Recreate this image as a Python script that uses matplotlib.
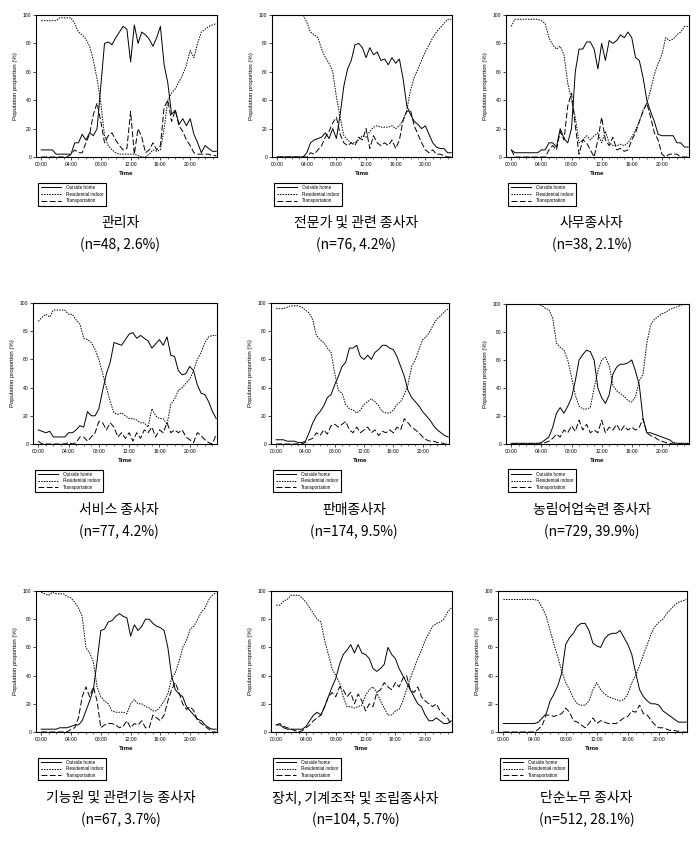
import numpy as np
import matplotlib
matplotlib.use('Agg')
import matplotlib.pyplot as plt

plt.rcParams['font.family'] = ['Liberation Sans', 'Noto Sans CJK KR', 'DejaVu Sans']

# 30분 간격 시간축 (00:00 ~ 23:30)
hours = np.arange(0, 24, 0.5)
tick_pos = [0, 4, 8, 12, 16, 20]
tick_lab = ['00:00', '04:00', '08:00', '12:00', '16:00', '20:00']
series_names = ['Outside home', 'Residential indoor', 'Transportation']

# 1. 관리자
out1 = [5,5,5,5,2,2,2,2, 2,10,10,16,12,17,15,20, 50,80,81,79,84,88,92,90,
        67,93,80,88,86,83,78,84, 92,65,52,30,33,23,27,22, 27,16,10,3,8,6,4,4]
res1 = [96,96,96,96,96,98,98,98, 98,94,88,86,83,78,68,55, 38,15,8,5,3,2,2,2,
        2,2,1,0,0,2,5,4, 5,20,40,45,48,53,58,65, 75,70,80,88,90,92,93,94]
trn1 = [0,0,0,0,0,0,0,0, 2,5,3,3,10,16,30,38, 25,10,15,17,12,8,5,6,
        32,2,20,14,3,5,10,5, 8,35,40,25,33,22,18,12, 8,3,2,2,2,2,1,1]

# 2. 전문가 및 관련 종사자
out2 = [0,0,0,0,0,0,0,0, 3,10,12,13,14,17,13,20, 13,30,50,62,68,79,80,77,
        70,77,72,74,68,69,65,70, 66,69,55,36,30,25,23,20, 22,16,10,7,6,6,3,3]
res2 = [100,100,100,100,100,100,100,100, 95,88,86,84,76,70,66,60, 42,28,15,12,10,10,12,15,
        14,18,21,22,21,21,21,22, 20,22,26,33,47,56,62,68, 74,79,84,88,91,94,97,97]
trn2 = [0,0,0,0,0,0,0,0, 0,3,2,5,8,14,18,24, 28,16,10,8,10,8,14,12,
        20,6,15,10,8,10,8,12, 6,12,26,32,33,22,16,10, 5,3,5,2,2,1,0,0]

# 3. 사무종사자
out3 = [5,3,3,3,3,3,3,3, 5,5,10,10,7,20,13,10, 20,60,76,76,81,81,76,62,
        80,68,82,80,82,86,84,88, 84,70,68,56,40,32,25,16, 15,15,15,15,10,10,7,7]
res3 = [92,97,97,97,97,97,97,97, 96,94,84,79,76,78,72,52, 40,28,10,12,15,12,15,17,
        10,18,10,8,8,9,8,10, 14,19,25,33,38,47,58,66, 72,84,82,83,86,88,92,92]
trn3 = [5,0,0,0,0,0,0,0, 0,0,5,8,5,18,12,36, 45,22,2,12,10,5,0,12,
        28,12,8,14,5,6,4,5, 12,17,25,32,38,28,17,12, 2,0,2,2,2,0,0,0]

# 4. 서비스 종사자
out4 = [10,9,8,9,5,5,5,5, 8,8,10,13,12,23,20,20, 25,38,50,58,72,71,70,74,
        78,79,75,77,75,73,68,71, 74,70,76,63,62,52,49,50, 55,52,42,36,35,30,23,18]
res4 = [87,90,92,90,95,95,95,95, 92,92,88,85,75,74,72,67, 60,50,40,30,22,21,22,20,
        18,18,17,15,15,12,25,20, 18,18,14,28,32,38,40,43, 46,52,60,65,72,76,77,77]
trn4 = [2,0,0,0,0,0,0,0, 1,0,1,5,5,2,5,8, 16,15,10,15,12,5,8,4,
        8,2,8,4,10,8,12,5, 10,8,15,8,10,8,10,5, 3,1,8,6,3,1,0,7]

# 5. 판매종사자
out5 = [3,3,3,2,2,2,1,1, 2,8,15,20,23,27,33,35, 42,48,55,58,68,68,70,62,
        60,63,60,65,67,70,70,68, 67,62,55,48,38,33,30,27, 23,20,17,13,10,8,6,5]
res5 = [96,96,96,97,98,98,98,97, 95,93,88,77,74,72,68,65, 50,38,36,28,25,24,22,24,
        28,30,32,30,27,23,22,22, 24,28,30,35,42,55,60,67, 74,76,80,85,89,91,94,96]
trn5 = [0,0,0,0,0,0,0,0, 1,3,4,8,6,10,7,13, 14,12,14,16,10,8,12,8,
        10,12,8,10,6,9,8,10, 8,12,10,18,15,12,10,8, 5,3,2,2,1,1,0,0]

# 6. 농림어업숙련 종사자
out6 = [0.5,0.5,0.5,0.5,0.5,0.5,0.5,0.5, 1,3,5,12,22,26,22,27, 33,45,60,64,67,66,60,40,
        33,29,35,50,55,57,57,58, 60,52,42,18,8,8,7,6, 5,4,3,1,0.5,0.5,0.5,0.5]
res6 = [100,100,100,100,100,100,100,100, 99,97,96,90,72,69,67,60, 48,35,27,25,25,26,40,52,
        60,62,56,42,38,36,34,31, 30,34,45,50,72,85,89,91, 93,94,96,97,98,99,100,100]
trn6 = [0,0,0,0,0,0,0,0, 0,1,2,4,7,5,10,8, 13,9,17,10,14,8,10,8,
        17,8,12,10,14,9,13,10, 12,10,12,18,8,6,5,3, 2,1,0.5,0,0,0,0,0]

# 7. 기능원 및 관련기능 종사자
out7 = [2,2,2,2,2,3,3,3, 4,5,5,8,15,22,30,50, 72,73,78,79,82,84,82,81,
        68,76,72,75,80,80,77,75, 74,72,60,40,30,27,25,18, 15,12,9,8,5,3,2,2]
res7 = [99,98,97,99,98,98,98,96, 95,92,88,82,60,56,50,32, 25,22,20,15,14,14,14,13,
        20,23,20,20,18,17,15,15, 18,22,27,38,42,50,60,65, 73,75,80,85,88,94,97,99]
trn7 = [0,0,0,0,0,0,0,0, 2,3,10,25,32,25,32,22, 3,5,6,6,5,3,4,8,
        3,6,5,8,3,3,12,10, 8,12,22,30,35,28,20,16, 18,15,8,6,4,2,0,0]

# 8. 장치, 기계조작 및 조립종사자
out8 = [5,5,3,2,2,2,2,2, 4,8,12,14,12,18,25,32, 38,48,55,58,62,56,62,56,
        55,52,45,43,45,48,60,55, 52,45,40,35,30,25,20,18, 12,8,8,10,8,6,6,8]
res8 = [90,90,93,94,97,97,97,95, 92,88,84,80,78,65,55,45, 40,35,25,18,18,17,18,19,
        26,30,32,28,22,17,12,12, 15,16,22,30,38,45,52,58, 65,70,75,77,78,80,85,88]
trn8 = [5,6,4,3,2,1,0,1, 3,5,8,10,12,18,25,28, 25,32,30,25,28,20,27,22,
        15,20,18,28,30,35,32,30, 35,32,38,40,30,28,32,25, 22,20,18,20,15,12,10,5]

# 9. 단순노무 종사자
out9 = [6,6,6,6,6,6,6,6, 6,7,10,13,22,27,33,42, 62,67,70,75,77,77,72,63,
        61,60,66,69,70,70,72,67, 62,55,42,30,25,22,20,20, 19,15,13,11,9,7,7,7]
res9 = [94,94,94,94,94,94,94,94, 94,93,88,82,72,62,53,43, 35,30,24,20,19,19,22,30,
        35,30,27,25,24,23,22,23, 27,35,40,47,55,62,70,75, 78,80,84,87,90,92,93,94]
trn9 = [0,0,0,0,0,0,0,0, 0,2,5,12,12,11,12,13, 17,14,8,7,5,3,6,10,
        6,8,7,6,6,6,8,10, 11,15,14,19,13,12,8,5, 3,3,2,1,1,0.5,0,0]

jobs = ['관리자', '전문가 및 관련 종사자', '사무종사자',
        '서비스 종사자', '판매종사자', '농림어업숙련 종사자',
        '기능원 및 관련기능 종사자', '장치, 기계조작 및 조립종사자', '단순노무 종사자']
counts = ['(n=48, 2.6%)', '(n=76, 4.2%)', '(n=38, 2.1%)',
          '(n=77, 4.2%)', '(n=174, 9.5%)', '(n=729, 39.9%)',
          '(n=67, 3.7%)', '(n=104, 5.7%)', '(n=512, 28.1%)']

outs = [out1, out2, out3, out4, out5, out6, out7, out8, out9]
ress = [res1, res2, res3, res4, res5, res6, res7, res8, res9]
trns = [trn1, trn2, trn3, trn4, trn5, trn6, trn7, trn8, trn9]

# 각 패널 위치 (픽셀: left, top, right, bottom)
boxes = [(36, 15, 217, 157), (272, 15, 452, 157), (506, 15, 689, 157),
         (33, 303, 217, 444), (271, 303, 449, 444), (506, 304, 689, 444),
         (36, 591, 217, 732), (271, 591, 452, 732), (498, 591, 687, 732)]

W, H = 700, 846
fig = plt.figure(figsize=(7, 8.46), dpi=100)

for i in range(9):
    l, t, r, b = boxes[i]
    ax = fig.add_axes([l / W, 1 - b / H, (r - l) / W, (b - t) / H])
    ax.plot(hours, outs[i], color='black', lw=0.7, ls='-', label=series_names[0])
    ax.plot(hours, ress[i], color='black', lw=0.7, ls=(0, (1.5, 1.2)), label=series_names[1])
    ax.plot(hours, trns[i], color='black', lw=0.7, ls=(0, (6, 2.5)), label=series_names[2])

    ax.set_xlim(-0.7, 23.6)
    ax.set_ylim(0, 100)
    ax.set_xticks(tick_pos)
    ax.set_xticklabels(tick_lab)
    ax.set_xticks(range(0, 24), minor=True)
    ax.set_yticks([0, 20, 40, 60, 80, 100])
    ax.tick_params(labelsize=3.6, length=2, width=0.5, pad=1.5, direction='out')
    ax.tick_params(which='minor', length=1.2, width=0.4)
    for s in ax.spines.values():
        s.set_linewidth(0.8)
    ax.set_xlabel('Time', fontsize=4.5, fontweight='bold', labelpad=3)
    ax.set_ylabel('Population proportion (%)', fontsize=4.3, labelpad=3)

    leg = ax.legend(loc='upper left', bbox_to_anchor=(0, -0.165), fontsize=3.3,
                    frameon=True, fancybox=False, edgecolor='black', framealpha=1,
                    handlelength=4.5, borderpad=0.5, labelspacing=0.35, handletextpad=1.0)
    leg.get_frame().set_linewidth(0.8)

    # 직업군 이름과 표본수
    cx = ((l + r) / 2 - 6) / W
    fig.text(cx, 1 - (b + 66) / H, jobs[i], ha='center', va='center',
             fontsize=10, family=['Noto Sans CJK KR'])
    fig.text(cx, 1 - (b + 88) / H, counts[i], ha='center', va='center',
             fontsize=10, family=['Noto Sans CJK KR'])

fig.savefig('out.png', dpi=100)
